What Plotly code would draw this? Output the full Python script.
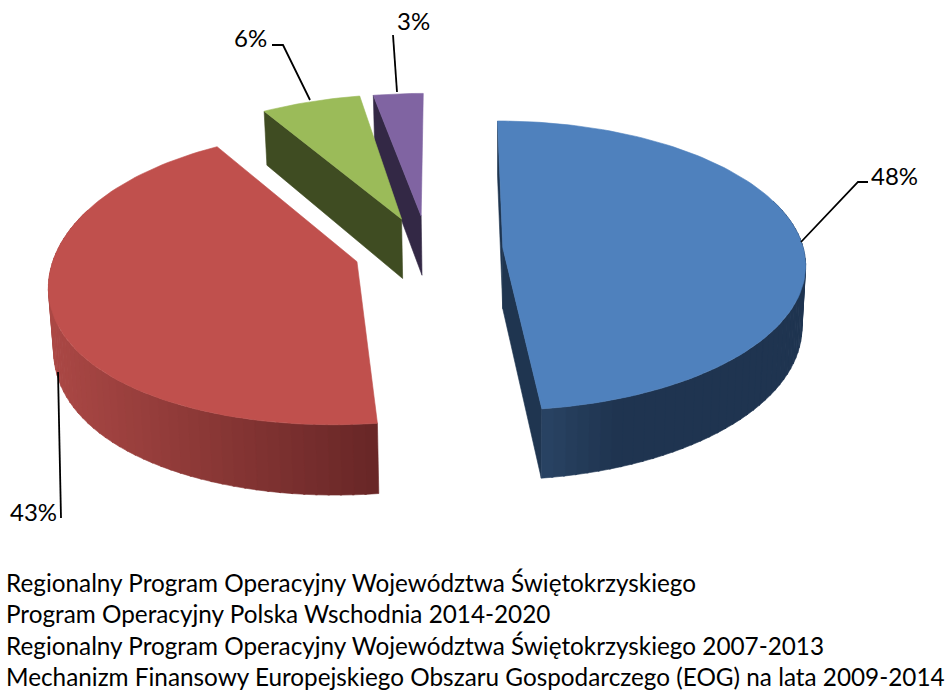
import math
import plotly.graph_objects as go

CATEGORIES = [
    "Regionalny Program Operacyjny Województwa Świętokrzyskiego",
    "Program Operacyjny Polska Wschodnia 2014-2020",
    "Regionalny Program Operacyjny Województwa Świętokrzyskiego 2007-2013",
    "Mechanizm Finansowy Europejskiego Obszaru Gospodarczego (EOG) na lata 2009-2014",
]
VALUES = [48, 43, 6, 3]

TOP = ["#4F81BD", "#C0504D", "#9BBB59", "#8064A2"]
FACE = ["#1F3550", "#692727", "#3F4C22", "#332845"]
RIM = [("#2A4565", "#1F3450", 0.3), ("#692727", "#AB4845", 1.0), ("#3F4C22", "#3F4C22", 1.0), ("#332845", "#332845", 1.0)]
FACE_EDGES = [(0, 1), (), (0,), (0,)]

VX, CX, CY = 495.0, 425.0, 250.0
RX, RY, K = 306.0, 143.0, 0.123
PULL, H, CONV = 73.0, 61.0, 0.012
APEX_NUDGE = 5.0
LEFT_LENS = 10.0
RIM_SHIFT = [(0, 0), (-2, -3.5), (-1, -4), (-5, -3)]
APEX_SHIFT = [(0, 0), (-3, 0), (-4, 0), (-4, -1)]
FONT = "Lato, Carlito, Calibri, sans-serif"
FS_LEGEND = 24.3
FS_LABEL = 24
INK = "#000000"


def proj(X, Z, bottom=False, shift=(0, 0)):
    p = 1 / (1 + K * Z)
    x = VX + (CX - VX + X) * p
    y = CY - Z * RY * p
    if bottom:
        x = VX + (x - VX) * (1 - CONV)
        y += H * p
    return x + shift[0], y + shift[1]


def mix(a, b, t):
    t = max(0.0, min(1.0, t))
    ca = [int(a[i:i + 2], 16) for i in (1, 3, 5)]
    cb = [int(b[i:i + 2], 16) for i in (1, 3, 5)]
    return "#%02x%02x%02x" % tuple(round(u + (v - u) * t) for u, v in zip(ca, cb))


fig = go.Figure()


def poly(points, color):
    fig.add_trace(go.Scatter(
        x=[q[0] for q in points] + [points[0][0]],
        y=[q[1] for q in points] + [points[0][1]],
        mode="lines", fill="toself", fillcolor=color,
        line=dict(color=color, width=0.6),
        hoverinfo="skip", showlegend=False,
    ))


total = sum(VALUES)
slices = []
start = 0.0
for i, v in enumerate(VALUES):
    sweep = v / total * 360
    slices.append((i, start, start + sweep))
    start += sweep

for i, a0, a1 in [slices[3], slices[2], slices[1], slices[0]]:
    mid = math.radians((a0 + a1) / 2)
    ax, az = PULL * math.sin(mid), PULL / RX * math.cos(mid)
    rs, xs_ = RIM_SHIFT[i], APEX_SHIFT[i]
    apex_top = proj(ax + APEX_NUDGE, az, False, xs_)
    apex_bot = proj(ax + APEX_NUDGE, az, True, xs_)

    def rim(deg):
        t = math.radians(deg)
        s = math.sin(t)
        lens = LEFT_LENS * s ** 4 if s < 0 else 0.0
        return ax + RX * s + lens, az + math.cos(t)

    # radial cut faces
    for k in FACE_EDGES[i]:
        rx_, rz_ = rim((a0, a1)[k])
        poly([apex_top, proj(rx_, rz_, False, rs), proj(rx_, rz_, True, rs), apex_bot], FACE[i])

    # outer wall, built from narrow shaded strips
    lo, hi = max(a0, 70.0), min(a1, 290.0)
    if hi > lo:
        n = max(2, int((hi - lo) / 2.0))
        c0, c1, span = RIM[i]
        xs = [proj(*rim(lo + (hi - lo) * j / 40))[0] for j in range(41)]
        tip_x = proj(*rim(a1 if i == 0 else a0))[0]
        far_x = max(xs) if i == 0 else min(xs)
        for j in range(n):
            d0 = lo + (hi - lo) * j / n
            d1 = min(lo + (hi - lo) * (j + 1.15) / n, hi)
            r0, r1 = rim(d0), rim(d1)
            frac = (proj(*r0)[0] - tip_x) / (far_x - tip_x) / span
            poly([proj(*r0, False, rs), proj(*r1, False, rs), proj(*r1, True, rs), proj(*r0, True, rs)],
                 mix(c0, c1, frac))

    # top surface
    steps = max(8, int((a1 - a0) / 1.5))
    arc = [proj(*rim(a0 + (a1 - a0) * s / steps), False, rs) for s in range(steps + 1)]
    poly([apex_top] + arc, TOP[i])

LEADERS = [
    [(801, 242), (858, 182), (868, 182)],
    [(58, 372), (61, 518)],
    [(310, 100), (283, 45), (272, 45)],
    [(397, 92), (393, 35)],
]
LABEL_POS = [(869, 175, "left"), (59, 511, "right"), (269, 37, "right"), (394.5, 20, "left")]
LEGEND_Y = [582, 613, 645, 676]

shapes = []
for path in LEADERS:
    d = "M " + " L ".join(f"{x},{y}" for x, y in path)
    shapes.append(dict(type="path", path=d, line=dict(color=INK, width=1.8), xref="x", yref="y"))

ann = []
for v, (x, y, anchor) in zip(VALUES, LABEL_POS):
    ann.append(dict(x=x, y=y, xref="x", yref="y", text=f"{v}%", showarrow=False, xanchor=anchor,
                    yanchor="middle", font=dict(family=FONT, size=FS_LABEL, color=INK)))
for name, y in zip(CATEGORIES, LEGEND_Y):
    ann.append(dict(x=4, y=y, xref="x", yref="y", text=name, showarrow=False, xanchor="left",
                    yanchor="middle", font=dict(family=FONT, size=FS_LEGEND, color=INK)))

fig.update_layout(
    width=951, height=693, margin=dict(l=0, r=0, t=0, b=0),
    paper_bgcolor="white", plot_bgcolor="white", showlegend=False,
    xaxis=dict(range=[0, 951], visible=False, fixedrange=True),
    yaxis=dict(range=[693, 0], visible=False, fixedrange=True),
    shapes=shapes, annotations=ann,
)
fig.write_html("out.html", config={"displayModeBar": False},
               post_script="document.body.style.margin='0';document.documentElement.style.overflow='hidden';")
